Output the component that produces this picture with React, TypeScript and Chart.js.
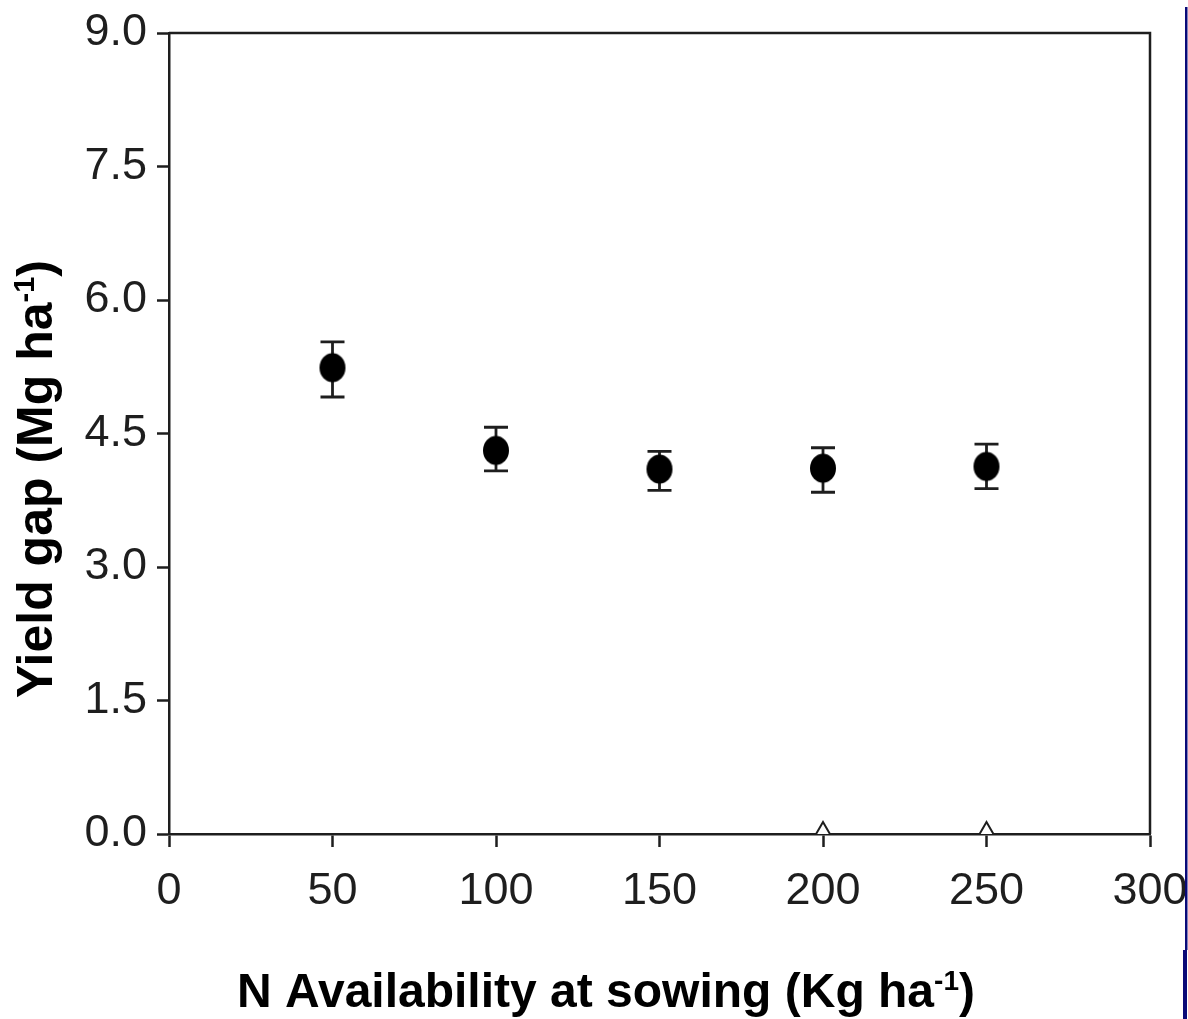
import { useEffect, useRef } from "react";
import { Chart, registerables } from "chart.js";

Chart.register(...registerables);

// N availability at sowing (kg/ha) and mean yield gap (Mg/ha) with error bar bounds
const nRates = [50, 100, 150, 200, 250];
const yieldGap = [5.24, 4.31, 4.1, 4.11, 4.13];
const errLow = [4.91, 4.08, 3.86, 3.84, 3.88];
const errHigh = [5.53, 4.57, 4.3, 4.34, 4.38];

// open triangle markers sitting on the x axis
const openMarkX = [200, 250];
const openMarkY = [0, 0];

const xTicksStep = 50;
const yTicksStep = 1.5;

const W = 1188;
const H = 1019;
const INK = "#1e1e1e";
const FONT = "'Liberation Sans', Arial, sans-serif";

// draws text with a raised exponent, centred on (0,0) of the current transform
function drawSupText(
  ctx: CanvasRenderingContext2D,
  main: string,
  sup: string,
  tail: string,
  size: number
) {
  const big = `bold ${size}px ${FONT}`;
  const small = `bold ${Math.round(size * 0.58)}px ${FONT}`;
  ctx.font = big;
  const w1 = ctx.measureText(main).width;
  const w3 = ctx.measureText(tail).width;
  ctx.font = small;
  const w2 = ctx.measureText(sup).width;
  const total = w1 + w2 + w3;
  let x = -total / 2;
  ctx.textAlign = "left";
  ctx.textBaseline = "alphabetic";
  ctx.font = big;
  ctx.fillText(main, x, 0);
  x += w1;
  ctx.font = small;
  ctx.fillText(sup, x, -size * 0.36);
  x += w2;
  ctx.font = big;
  ctx.fillText(tail, x, 0);
}

export default function App() {
  const ref = useRef<HTMLCanvasElement>(null);

  useEffect(() => {
    document.body.style.margin = "0";
    const canvas = ref.current;
    if (!canvas) return;

    // filled oval marker
    const dot = document.createElement("canvas");
    dot.width = 28;
    dot.height = 32;
    const dc = dot.getContext("2d")!;
    dc.fillStyle = "#000";
    dc.beginPath();
    dc.ellipse(14, 16, 13, 14.5, 0, 0, Math.PI * 2);
    dc.fill();

    const errorBars = {
      id: "errorBars",
      beforeDatasetsDraw(chart: any) {
        const { ctx, scales } = chart;
        const xs = scales.x;
        const ys = scales.y;
        ctx.save();
        ctx.strokeStyle = INK;
        ctx.lineWidth = 2.8;
        nRates.forEach((n, i) => {
          const px = xs.getPixelForValue(n);
          const t = ys.getPixelForValue(errHigh[i]);
          const b = ys.getPixelForValue(errLow[i]);
          ctx.beginPath();
          ctx.moveTo(px, t);
          ctx.lineTo(px, b);
          ctx.moveTo(px - 12, t);
          ctx.lineTo(px + 12, t);
          ctx.moveTo(px - 12, b);
          ctx.lineTo(px + 12, b);
          ctx.stroke();
        });
        // top and right frame lines
        const a = chart.chartArea;
        ctx.lineWidth = 2.5;
        ctx.beginPath();
        ctx.moveTo(a.left, a.top);
        ctx.lineTo(a.right, a.top);
        ctx.lineTo(a.right, a.bottom);
        ctx.stroke();
        ctx.restore();
      },
    };

    const titles = {
      id: "titles",
      afterDraw(chart: any) {
        const { ctx } = chart;
        ctx.save();
        ctx.fillStyle = "#000";
        // x axis title
        ctx.save();
        ctx.translate(606, 1007);
        drawSupText(ctx, "N Availability at sowing (Kg ha", "-1", ")", 48);
        ctx.restore();
        // y axis title
        ctx.save();
        ctx.translate(52, 479);
        ctx.rotate(-Math.PI / 2);
        drawSupText(ctx, "Yield gap (Mg ha", "-1", ")", 50);
        ctx.restore();
        // navy rule at the right edge
        ctx.fillStyle = "#0a0a78";
        ctx.fillRect(1185, 7, 2.5, 943);
        ctx.fillRect(1183, 950, 4, 69);
        ctx.restore();
      },
    };

    const chart = new Chart(canvas, {
      type: "scatter",
      data: {
        datasets: [
          {
            label: "Yield gap",
            data: nRates.map((n, i) => ({ x: n, y: yieldGap[i] })),
            pointStyle: dot as any,
            pointRadius: 14,
            backgroundColor: "#000",
            borderColor: "#000",
          },
          {
            label: "Open",
            data: openMarkX.map((n, i) => ({ x: n, y: openMarkY[i] })),
            pointStyle: "triangle",
            pointRadius: 12,
            backgroundColor: "#fff",
            borderColor: INK,
            borderWidth: 2,
          },
        ],
      },
      options: {
        responsive: false,
        animation: false,
        events: [],
        layout: { padding: { left: 0, top: 33, right: 38, bottom: 0 } },
        plugins: {
          legend: { display: false },
          tooltip: { enabled: false },
        },
        scales: {
          x: {
            type: "linear",
            min: 0,
            max: 300,
            afterFit: (s: any) => {
              s.height = 185;
              s.paddingLeft = 0;
              s.paddingRight = 0;
            },
            ticks: {
              stepSize: xTicksStep,
              color: INK,
              padding: 18,
              font: { family: FONT, size: 45 },
              maxRotation: 0,
            },
            grid: {
              display: true,
              drawOnChartArea: false,
              drawTicks: true,
              tickLength: 13,
              tickWidth: 2.5,
              tickColor: INK,
            },
            border: { display: true, color: INK, width: 2.5 },
          },
          y: {
            type: "linear",
            min: 0,
            max: 9,
            afterFit: (s: any) => {
              s.width = 169;
              s.paddingTop = 0;
              s.paddingBottom = 0;
            },
            ticks: {
              stepSize: yTicksStep,
              color: INK,
              padding: 10,
              font: { family: FONT, size: 45 },
              callback: (v: any) => Number(v).toFixed(1),
            },
            grid: {
              display: true,
              drawOnChartArea: false,
              drawTicks: true,
              tickLength: 12,
              tickWidth: 2.5,
              tickColor: INK,
            },
            border: { display: true, color: INK, width: 2.5 },
          },
        },
      },
      plugins: [errorBars, titles],
    });

    return () => chart.destroy();
  }, []);

  return (
    <div style={{ width: W, height: H, position: "relative", background: "#fff" }}>
      <canvas ref={ref} width={W} height={H} style={{ width: W, height: H, display: "block" }} />
    </div>
  );
}
